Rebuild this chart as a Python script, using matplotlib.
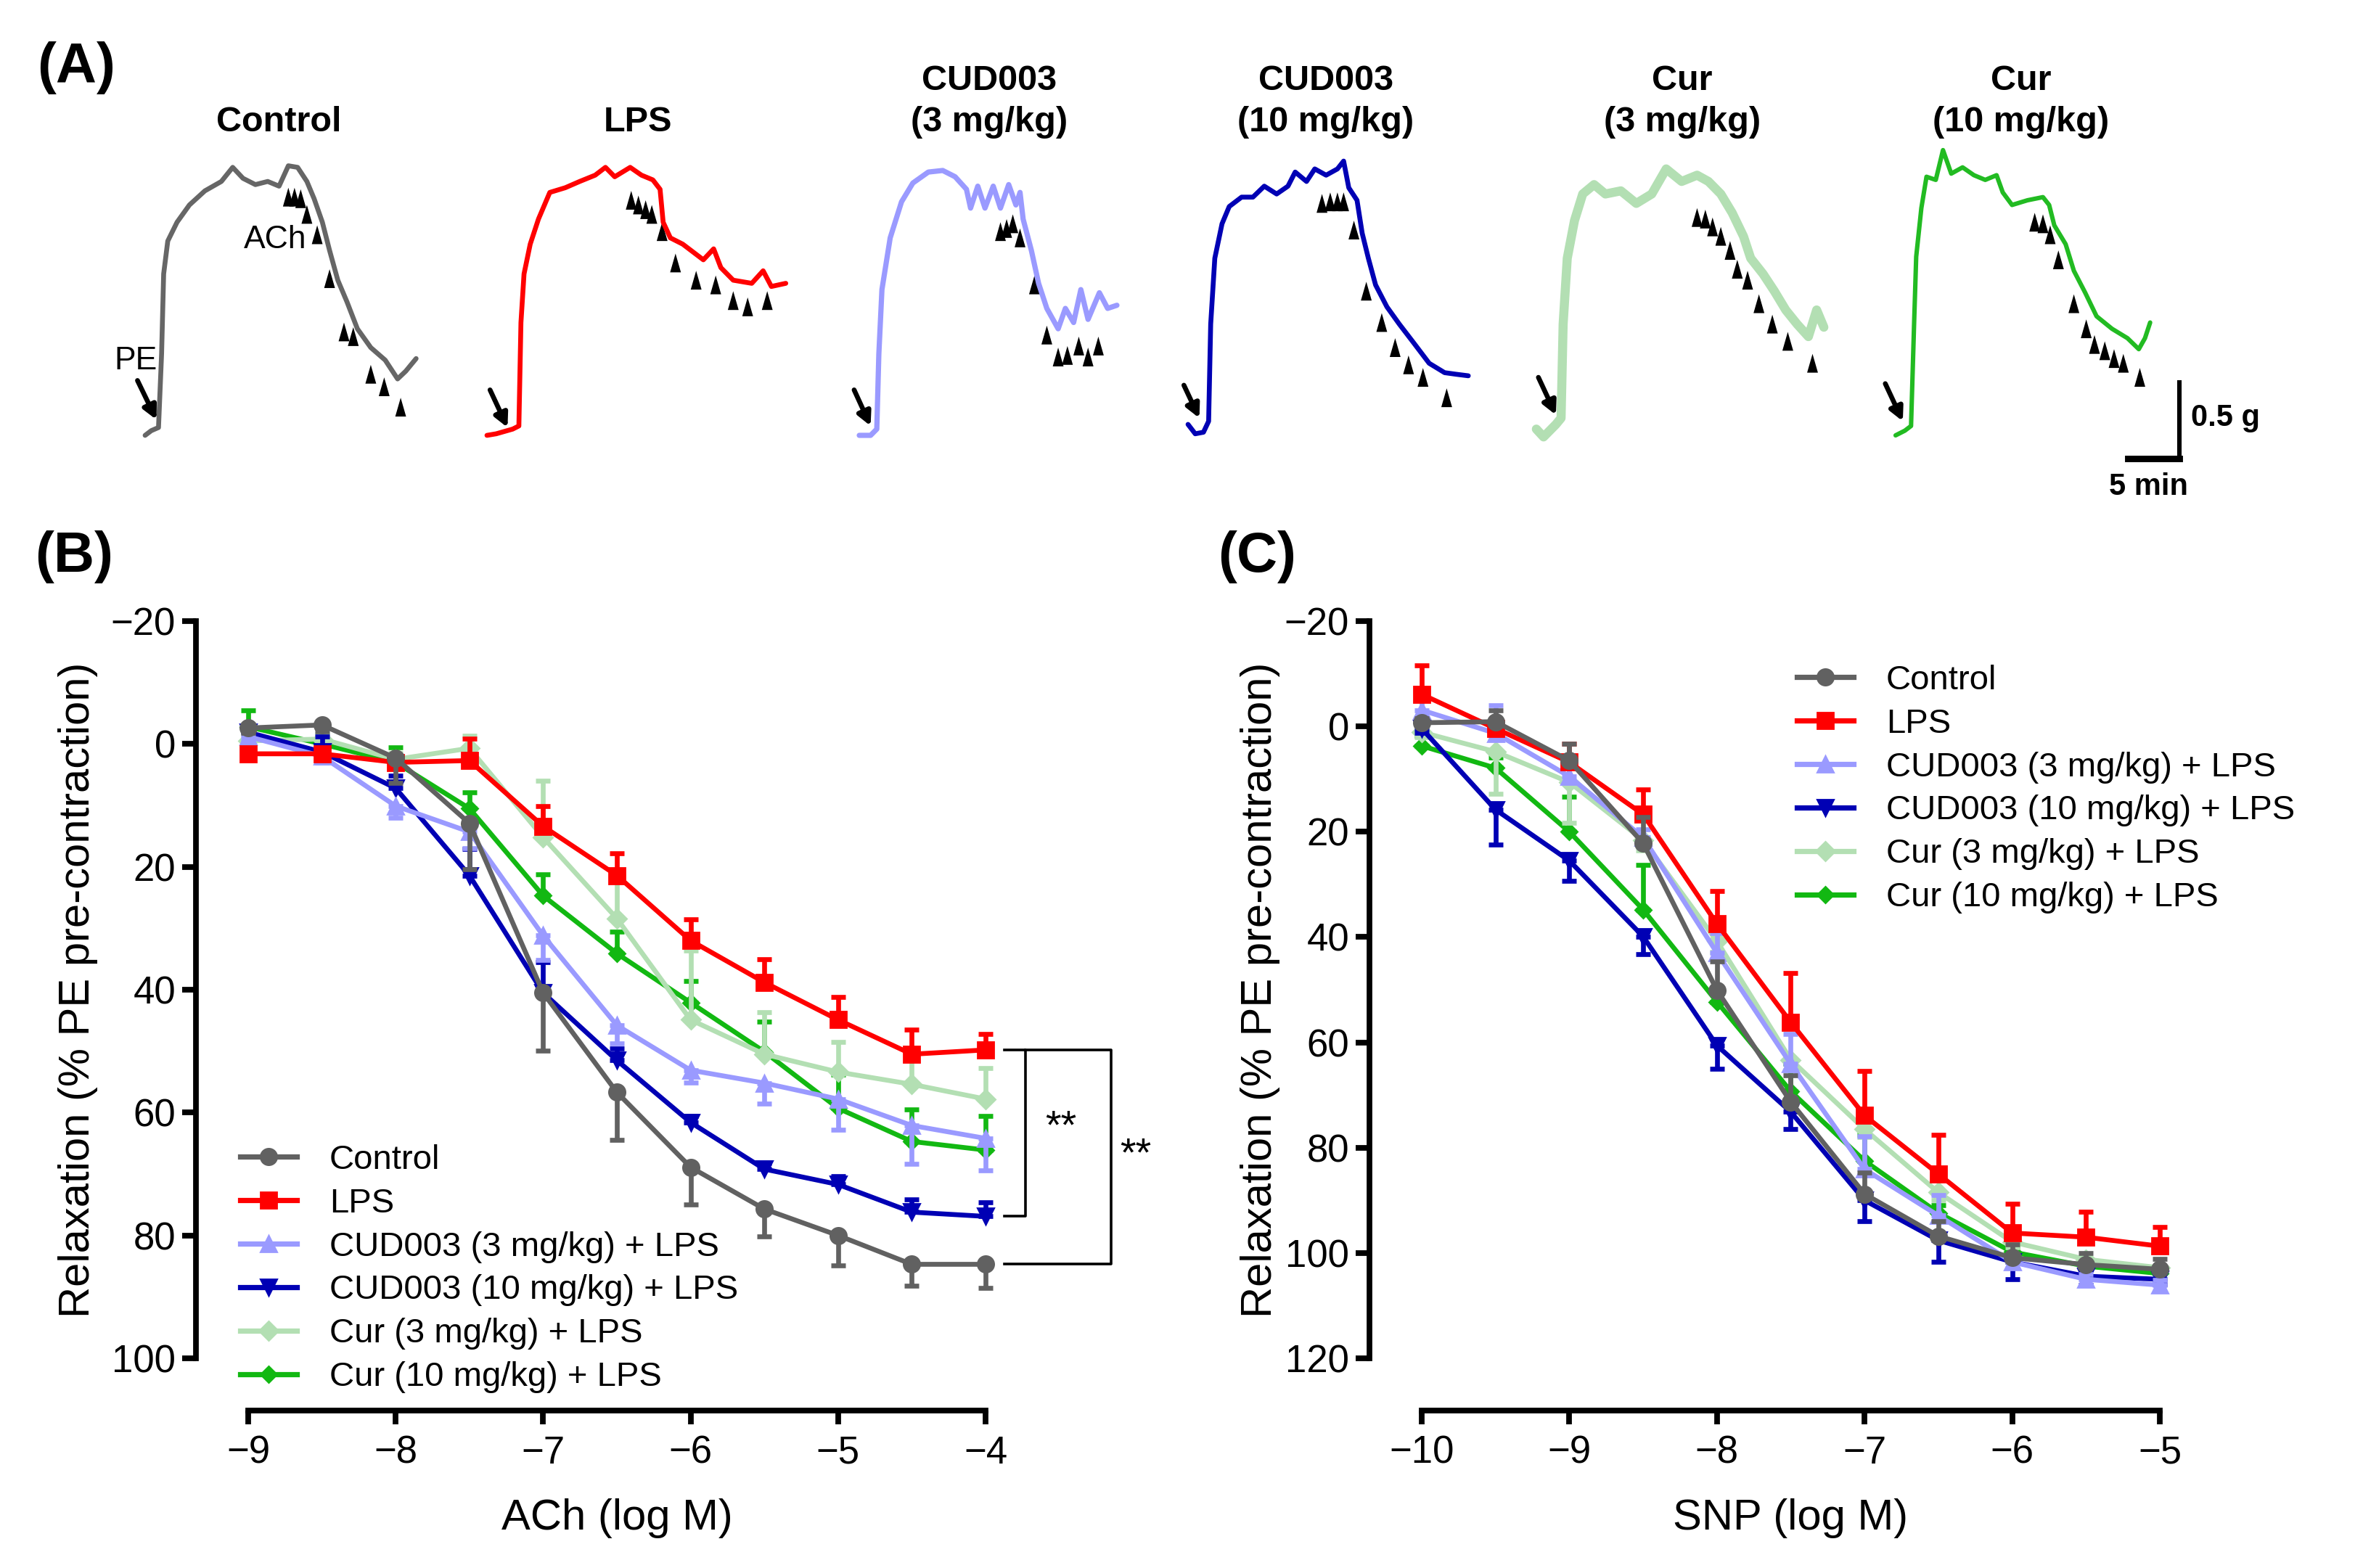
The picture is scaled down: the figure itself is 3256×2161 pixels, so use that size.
import matplotlib
matplotlib.use("Agg")
import matplotlib.pyplot as plt

plt.rcParams["font.family"] = ["Liberation Sans", "DejaVu Sans"]

W, H, DPI = 3256, 2161, 200


def fx(x):
    return x / W


def fy(y):
    return 1 - y / H


# ---------------- panel A: tension traces (time in min, tension in g above baseline)
ctrl_t = [0, 0.6, 1.3, 1.6, 1.8, 2.2, 3.1, 4.3, 5.8, 7.4, 8.5, 9.5, 10.7, 11.9, 13.0, 13.9, 14.8, 15.7,
          16.4, 17.2, 17.9, 18.7, 19.6, 20.6, 21.9, 23.3, 24.5, 25.3, 26.3]
ctrl_g = [0, 0.03, 0.05, 0.52, 1.03, 1.24, 1.36, 1.47, 1.56, 1.62, 1.71, 1.64, 1.60, 1.62, 1.59, 1.72, 1.71,
          1.62, 1.51, 1.36, 1.18, 0.99, 0.85, 0.68, 0.56, 0.48, 0.36, 0.41, 0.49]
lps_t = [0, 0.9, 2.5, 3.1, 3.3, 3.6, 4.2, 5.0, 6.1, 7.6, 9.0, 10.5, 11.5, 12.4, 13.9, 15.0, 16.1, 16.8,
         17.1, 17.8, 19.0, 20.2, 21.0, 22.0, 22.7, 23.9, 25.7, 26.8, 27.6, 29.0]
lps_g = [0, 0.01, 0.04, 0.06, 0.72, 1.03, 1.22, 1.38, 1.55, 1.58, 1.62, 1.66, 1.71, 1.65, 1.71, 1.66, 1.63,
         1.57, 1.36, 1.26, 1.22, 1.16, 1.12, 1.19, 1.07, 0.99, 0.97, 1.05, 0.95, 0.97]
cud3_t = [0, 1.1, 1.7, 1.9, 2.2, 3.0, 4.1, 5.2, 6.7, 8.1, 9.3, 10.4, 10.8, 11.5, 12.2, 13.0, 13.7, 14.5,
          15.2, 15.6, 15.9, 16.7, 17.4, 18.2, 19.3, 20.0, 20.8, 21.5, 22.2, 23.3, 24.1, 25.0]
cud3_g = [0, 0, 0.04, 0.52, 0.93, 1.26, 1.49, 1.61, 1.68, 1.69, 1.65, 1.57, 1.45, 1.59, 1.45, 1.59, 1.45,
          1.60, 1.47, 1.55, 1.38, 1.18, 0.97, 0.81, 0.68, 0.81, 0.72, 0.93, 0.74, 0.91, 0.81, 0.83]
cud10_t = [0, 0.7, 1.5, 2.0, 2.2, 2.6, 3.3, 4.0, 5.2, 6.3, 7.4, 8.6, 9.7, 10.4, 11.5, 12.3, 13.4, 14.5,
           15.1, 15.6, 16.4, 16.9, 17.5, 18.2, 19.3, 20.5, 21.9, 23.4, 24.9, 26.0, 27.2]
cud10_g = [0.04, -0.02, -0.01, 0.06, 0.68, 1.10, 1.32, 1.43, 1.49, 1.49, 1.56, 1.51, 1.56, 1.65, 1.59, 1.67,
           1.63, 1.67, 1.72, 1.55, 1.47, 1.26, 1.10, 0.93, 0.79, 0.68, 0.56, 0.43, 0.37, 0.36, 0.35]
cur3_t = [0, 0.7, 1.9, 2.4, 2.6, 3.0, 3.7, 4.5, 5.6, 6.7, 8.2, 9.7, 11.2, 12.6, 14.1, 15.6, 16.7, 17.9,
          19.0, 20.1, 20.8, 22.0, 23.1, 24.2, 25.3, 26.4, 27.2, 27.9]
cur3_g = [0.02, -0.03, 0.05, 0.09, 0.69, 1.11, 1.35, 1.52, 1.58, 1.52, 1.54, 1.46, 1.52, 1.68, 1.60, 1.64,
          1.60, 1.52, 1.40, 1.25, 1.11, 1.01, 0.90, 0.78, 0.69, 0.61, 0.78, 0.67]
cur10_t = [0, 0.9, 1.5, 1.8, 2.0, 2.5, 3.0, 3.9, 4.6, 5.4, 6.5, 7.6, 8.7, 9.8, 10.4, 11.3, 12.8, 14.3,
           14.9, 15.4, 16.5, 17.3, 18.4, 19.5, 21.0, 22.5, 23.6, 24.2, 24.7]
cur10_g = [0, 0.03, 0.06, 0.72, 1.14, 1.45, 1.65, 1.63, 1.82, 1.67, 1.71, 1.66, 1.63, 1.66, 1.55, 1.47,
           1.50, 1.52, 1.47, 1.34, 1.22, 1.05, 0.91, 0.76, 0.68, 0.62, 0.55, 0.62, 0.72]

# ACh additions (arrowhead tips)
ctrl_ach_t = [13.9, 14.5, 15.1, 15.7, 16.7, 17.9, 19.3, 20.2, 21.9, 23.2, 24.8]
ctrl_ach_g = [1.58, 1.58, 1.57, 1.47, 1.34, 1.06, 0.72, 0.69, 0.45, 0.37, 0.24]
lps_ach_t = [14.0, 14.7, 15.4, 16.0, 17.0, 18.3, 20.3, 22.2, 23.9, 25.3, 27.2]
lps_ach_g = [1.56, 1.53, 1.50, 1.47, 1.36, 1.16, 1.05, 1.02, 0.92, 0.88, 0.92]
cud3_ach_t = [13.7, 14.3, 14.9, 15.6, 17.0, 18.2, 19.3, 20.2, 21.3, 22.2, 23.2]
cud3_ach_g = [1.36, 1.38, 1.41, 1.32, 1.02, 0.70, 0.56, 0.57, 0.63, 0.56, 0.63]
cud10_ach_t = [13.0, 13.8, 14.5, 15.1, 16.1, 17.3, 18.8, 20.1, 21.4, 22.8, 25.1]
cud10_ach_g = [1.51, 1.52, 1.52, 1.52, 1.34, 0.95, 0.75, 0.59, 0.48, 0.40, 0.27]
cur3_ach_t = [15.6, 16.4, 17.1, 17.9, 18.8, 19.5, 20.5, 21.6, 22.9, 24.4, 26.8]
cur3_ach_g = [1.43, 1.42, 1.37, 1.31, 1.22, 1.10, 1.03, 0.88, 0.75, 0.64, 0.50]
cur10_ach_t = [13.5, 14.3, 15.0, 15.8, 17.3, 18.5, 19.3, 20.3, 21.2, 22.1, 23.7]
cur10_ach_g = [1.42, 1.41, 1.34, 1.18, 0.90, 0.74, 0.64, 0.60, 0.55, 0.52, 0.43]

# PE addition arrows: tail (t, g) -> tip (t, g)
pe_tail = [(-0.74, 0.35), (0.3, 0.29), (-0.5, 0.29), (-0.4, 0.29), (0.2, 0.35), (-1.0, 0.33)]
pe_tip = [(1.1, 0.10), (2.0, 0.05), (1.1, 0.06), (1.1, 0.08), (1.9, 0.11), (0.7, 0.09)]

trace_names = ["Control", "LPS", "CUD003\n(3 mg/kg)", "CUD003\n(10 mg/kg)", "Cur\n(3 mg/kg)", "Cur\n(10 mg/kg)"]
trace_start = [14.08, 47.25, 83.38, 115.28, 149.08, 183.94]   # min on the shared time axis
trace_base = [0, 0, 0, 0.03, 0.02, 0]
trace_colors = ["#666666", "#ff0000", "#9a9aff", "#0000b4", "#b3dfb3", "#22bb22"]
trace_lw = [2.4, 2.4, 2.6, 2.4, 4.5, 2.2]
traces = [(ctrl_t, ctrl_g), (lps_t, lps_g), (cud3_t, cud3_g), (cud10_t, cud10_g), (cur3_t, cur3_g), (cur10_t, cur10_g)]
ach = [(ctrl_ach_t, ctrl_ach_g), (lps_ach_t, lps_ach_g), (cud3_ach_t, cud3_ach_g),
       (cud10_ach_t, cud10_ach_g), (cur3_ach_t, cur3_ach_g), (cur10_ach_t, cur10_ach_g)]
title_x = [384, 879, 1363, 1827, 2318, 2785]

# ---------------- panel B: ACh concentration-response
ach_logm = [-9, -8.5, -8, -7.5, -7, -6.5, -6, -5.5, -5, -4.5, -4]
ctrl_b = [-2.6, -3.1, 2.3, 12.9, 40.5, 56.7, 68.9, 75.7, 80.0, 84.7, 84.7]
ctrl_b_sem = [0.8, 1.0, 4.0, 7.5, 9.4, 7.7, 6.1, 4.5, 4.9, 3.5, 3.8]
lps_b = [1.6, 1.6, 3.0, 2.7, 13.4, 21.4, 32.0, 38.8, 44.9, 50.5, 49.8]
lps_b_sem = [0.8, 0.8, 1.0, 3.6, 3.3, 3.6, 3.4, 3.8, 3.7, 4.0, 2.6]
cud3_b = [-1.2, 2.0, 10.1, 14.3, 31.2, 45.8, 53.1, 55.2, 57.8, 62.1, 64.2]
cud3_b_sem = [0.8, 1.0, 1.9, 2.7, 4.0, 2.9, 2.0, 3.3, 5.0, 6.3, 5.2]
cud10_b = [-1.9, 1.3, 7.2, 21.4, 40.5, 51.5, 61.6, 69.2, 71.7, 76.2, 76.9]
cud10_b_sem = [0.8, 2.5, 2.0, 4.3, 5.0, 1.9, 1.0, 1.0, 1.4, 2.1, 2.3]
cur3_b = [-0.5, -0.8, 2.5, 0.7, 15.2, 28.4, 44.9, 50.5, 53.4, 55.4, 57.8]
cur3_b_sem = [0.8, 0.8, 1.0, 2.0, 9.2, 6.0, 11.3, 6.8, 4.9, 4.4, 5.1]
cur10_b = [-2.8, 0.0, 3.0, 10.5, 24.7, 34.1, 42.1, 50.1, 59.3, 64.7, 66.1]
cur10_b_sem = [2.7, 0.8, 2.5, 2.6, 3.5, 3.6, 3.5, 4.9, 5.5, 5.2, 5.5]

# ---------------- panel C: SNP concentration-response
snp_logm = [-10, -9.5, -9, -8.5, -8, -7.5, -7, -6.5, -6, -5.5, -5]
ctrl_c = [-0.7, -0.9, 6.5, 22.2, 50.1, 71.3, 88.8, 96.8, 100.9, 102.2, 103.1]
ctrl_c_sem = [0.8, 2.2, 3.2, 5.0, 5.5, 5.0, 4.1, 2.8, 2.5, 2.2, 2.0]
lps_c = [-6.1, 0.4, 6.8, 16.7, 37.5, 56.2, 73.9, 85.0, 96.2, 97.0, 98.7]
lps_c_sem = [5.5, 1.0, 3.5, 4.7, 6.3, 9.4, 8.4, 7.4, 5.5, 4.9, 3.6]
cud3_c = [-3.1, 1.3, 9.5, 21.1, 43.0, 64.1, 84.1, 92.9, 101.7, 105.0, 106.1]
cud3_c_sem = [2.0, 5.3, 1.6, 1.5, 3.8, 5.7, 6.2, 3.9, 1.0, 1.0, 1.0]
cud10_c = [0.4, 15.8, 25.5, 39.9, 60.6, 73.2, 90.0, 97.6, 101.7, 104.4, 105.0]
cud10_c_sem = [0.8, 6.6, 3.8, 3.3, 4.4, 3.3, 4.0, 4.1, 3.3, 1.7, 1.0]
cur3_c = [1.1, 4.8, 10.6, 21.6, 40.8, 63.3, 76.5, 88.5, 97.9, 101.2, 102.8]
cur3_c_sem = [1.0, 8.0, 7.7, 2.0, 2.0, 2.0, 1.5, 1.5, 1.0, 1.0, 1.0]
cur10_c = [3.7, 7.9, 20.0, 34.8, 52.3, 69.3, 82.5, 92.4, 99.8, 102.5, 103.9]
cur10_c_sem = [1.9, 2.0, 6.6, 8.5, 1.6, 5.3, 5.0, 1.5, 1.0, 1.0, 1.0]

group_labels = ["Control", "LPS", "CUD003 (3 mg/kg) + LPS", "CUD003 (10 mg/kg) + LPS",
                "Cur (3 mg/kg) + LPS", "Cur (10 mg/kg) + LPS"]
colors = ["#616161", "#ff0000", "#9a9aff", "#0000b4", "#b3dfb3", "#12b812"]
markers = ["o", "s", "^", "v", "D", "D"]
msizes = [8, 8, 8, 8, 6.5, 5.5]
# which way the one-sided SEM bar points on screen
bar_up_b = [False, True, False, True, True, True]
bar_up_c = [True, True, True, False, False, True]

fig = plt.figure(figsize=(W / DPI, H / DPI), dpi=DPI)

# ---------- panel A
ax_a = fig.add_axes([0, fy(720), 1, 720 / H])
PX_MIN, PX_G = 14.2, 216.0
ax_a.set_xlim(0, W / PX_MIN)
ax_a.set_ylim(-(720 - 600) / PX_G, 600 / PX_G)
ax_a.axis("off")

tri_w, tri_h = 1.05, 0.12
for i in range(6):
    t0, b0 = trace_start[i], trace_base[i]
    tt, gg = traces[i]
    ax_a.plot([t0 + v for v in tt], [b0 + v for v in gg], color=trace_colors[i],
              lw=trace_lw[i], solid_joinstyle="round", solid_capstyle="round")
    at, ag = ach[i]
    for a, g in zip(at, ag):
        x, y = t0 + a, b0 + g
        ax_a.fill([x, x - tri_w / 2, x + tri_w / 2], [y, y - tri_h, y - tri_h], color="black", lw=0)
    (tx, ty), (hx, hy) = pe_tail[i], pe_tip[i]
    ax_a.annotate("", xy=(t0 + hx, b0 + hy), xytext=(t0 + tx, b0 + ty),
                  arrowprops=dict(arrowstyle="-|>,head_length=0.55,head_width=0.28", color="black",
                                  lw=2.4, shrinkA=0, shrinkB=0))

    name = trace_names[i]
    if "\n" in name:
        top, bot = name.split("\n")
        fig.text(fx(title_x[i]), fy(112), top, ha="center", va="center", fontsize=17.5, fontweight="bold")
        fig.text(fx(title_x[i]), fy(168), bot, ha="center", va="center", fontsize=17.5, fontweight="bold")
    else:
        fig.text(fx(title_x[i]), fy(168), name, ha="center", va="center", fontsize=17.5, fontweight="bold")

t0 = trace_start[0]
ax_a.text(t0 - 0.9, 0.475, "PE", ha="center", va="center", fontsize=16)
ax_a.text(t0 + 12.6, 1.25, "ACh", ha="center", va="center", fontsize=16)

# scale bar: 0.5 g and 5 min
sb_x, sb_y = 211.5, -0.148
ax_a.plot([sb_x, sb_x], [sb_y, sb_y + 0.5], color="black", lw=2.2, solid_capstyle="butt")
ax_a.plot([sb_x - 5, sb_x], [sb_y, sb_y], color="black", lw=3.2, solid_capstyle="projecting")
ax_a.text(sb_x + 1.1, sb_y + 0.26, "0.5 g", ha="left", va="center", fontsize=15, fontweight="bold")
ax_a.text(sb_x - 3.0, sb_y - 0.18, "5 min", ha="center", va="center", fontsize=15, fontweight="bold")


# ---------- panels B and C
def curve_panel(ax, xs, ys_list, sem_list, bar_up, ylim_low):
    for i in range(5, -1, -1):
        ys, sem = ys_list[i], sem_list[i]
        lower = sem if bar_up[i] else [0] * len(sem)
        upper = [0] * len(sem) if bar_up[i] else sem
        ax.errorbar(xs, ys, yerr=[lower, upper], fmt="none", ecolor=colors[i], elinewidth=2.4,
                    capsize=3.6, capthick=2.4, clip_on=False, zorder=3 + (5 - i) * 0.1)
        ax.plot(xs, ys, color=colors[i], lw=2.4, marker=markers[i], ms=msizes[i],
                mec=colors[i], mfc=colors[i], clip_on=False, zorder=3.05 + (5 - i) * 0.1)
    ax.set_xlim(xs[0], xs[-1])
    ax.set_ylim(ylim_low, -20)
    for s in ("top", "right"):
        ax.spines[s].set_visible(False)
    for s in ("left", "bottom"):
        ax.spines[s].set_linewidth(2.8)
        ax.spines[s].set_position(("outward", 26))
    ax.spines["left"].set_bounds(ylim_low, -20)
    ax.spines["bottom"].set_bounds(xs[0], xs[-1])
    ax.set_yticks(list(range(-20, ylim_low + 1, 20)))
    ax.set_xticks(list(range(int(xs[0]), int(xs[-1]) + 1)))
    ax.tick_params(axis="both", width=2.8, length=7, labelsize=19)
    ax.tick_params(axis="y", pad=3)
    ax.tick_params(axis="x", pad=5)
    ax.patch.set_alpha(0)


ax_b = fig.add_axes([fx(342), fy(1872), (1358 - 342) / W, (1872 - 856) / H])
curve_panel(ax_b, ach_logm, [ctrl_b, lps_b, cud3_b, cud10_b, cur3_b, cur10_b],
            [ctrl_b_sem, lps_b_sem, cud3_b_sem, cud10_b_sem, cur3_b_sem, cur10_b_sem], bar_up_b, 100)

ax_c = fig.add_axes([fx(1959), fy(1872), (2976 - 1959) / W, (1872 - 856) / H])
curve_panel(ax_c, snp_logm, [ctrl_c, lps_c, cud3_c, cud10_c, cur3_c, cur10_c],
            [ctrl_c_sem, lps_c_sem, cud3_c_sem, cud10_c_sem, cur3_c_sem, cur10_c_sem], bar_up_c, 120)

handles = [plt.Line2D([], [], color=colors[i], lw=2.6, marker=markers[i], ms=msizes[i]) for i in range(6)]
for ax, (lx, ly) in ((ax_b, (331, 1577)), (ax_c, (2476, 916))):
    ax.legend(handles, group_labels, loc="upper left", bbox_to_anchor=(fx(lx), fy(ly)),
              bbox_transform=fig.transFigure, frameon=False, fontsize=17, handlelength=1.65,
              handletextpad=0.95, labelspacing=0.335, borderpad=0, borderaxespad=0)

# significance brackets on B
bx1, bx2, bx0 = -3.73, -3.15, -3.87
ax_b.plot([bx0, bx1, bx1, bx0], [lps_b[-1], lps_b[-1], cud10_b[-1], cud10_b[-1]], color="black", lw=1.3,
          clip_on=False)
ax_b.plot([bx1, bx2, bx2, bx0], [lps_b[-1], lps_b[-1], ctrl_b[-1], ctrl_b[-1]], color="black", lw=1.3,
          clip_on=False)
ax_b.text(-3.49, 62.5, "**", ha="center", va="center", fontsize=20)
ax_b.text(-2.98, 67.0, "**", ha="center", va="center", fontsize=20)

# axis titles
for x0, xl in ((850, "ACh (log M)"), (2467, "SNP (log M)")):
    fig.text(fx(x0), fy(2092), xl, ha="center", va="center", fontsize=21.5)
for x0 in (108, 1736):
    fig.text(fx(x0), fy(1364), "Relaxation (% PE pre-contraction)", ha="center", va="center",
             rotation=90, fontsize=21.5)

# panel letters
fig.text(fx(105), fy(94), "(A)", ha="center", va="center", fontsize=28, fontweight="bold")
fig.text(fx(102), fy(768), "(B)", ha="center", va="center", fontsize=28, fontweight="bold")
fig.text(fx(1732), fy(768), "(C)", ha="center", va="center", fontsize=28, fontweight="bold")

fig.savefig("out.png", dpi=DPI)
